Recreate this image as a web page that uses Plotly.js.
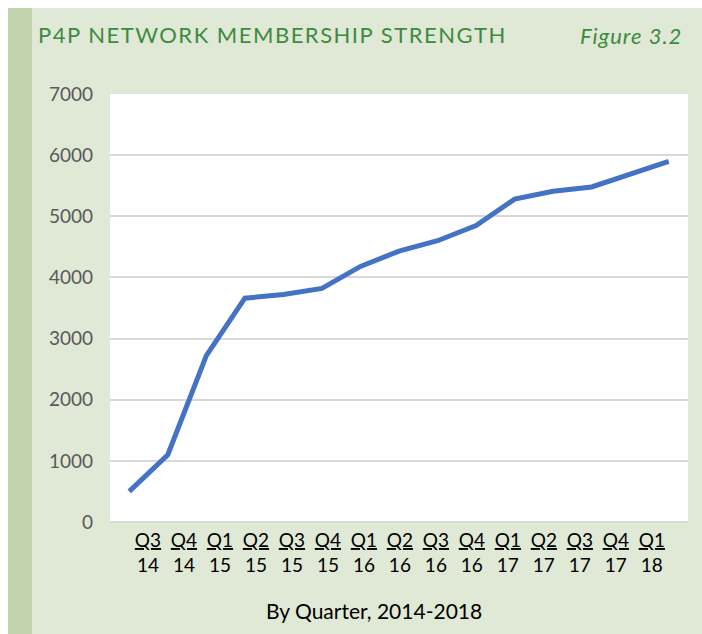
<!DOCTYPE html>
<html>
<head>
<meta charset="utf-8">
<script src="https://cdn.plot.ly/plotly-3.0.1.min.js"></script>
<style>
  html, body { margin: 0; padding: 0; background: #ffffff; }
  #bg { position: absolute; left: 8px; top: 8px; width: 694px; height: 626px;
        box-sizing: border-box; background: #e0e8d6; border-left: 24px solid #c3d3ae; }
  #plot { position: absolute; left: 0; top: 0; width: 702px; height: 634px; }
  #plot .gtitle { letter-spacing: 1.5px; }
  #plot .annotation-text.fig { letter-spacing: 1px; }
</style>
</head>
<body>
<div id="bg"></div>
<div id="plot"></div>
<script>
// ---- data ----
const quarters = ["Q3", "Q4", "Q1", "Q2", "Q3", "Q4", "Q1", "Q2", "Q3", "Q4", "Q1", "Q2", "Q3", "Q4", "Q1"];
const years    = ["14", "14", "15", "15", "15", "15", "16", "16", "16", "16", "17", "17", "17", "17", "18"];
const members  = [500, 1100, 2720, 3660, 3720, 3820, 4180, 4430, 4600, 4850, 5280, 5410, 5480, 5700, 5900];
const yTicks   = [0, 1000, 2000, 3000, 4000, 5000, 6000, 7000];
const chartTitle = "P4P NETWORK MEMBERSHIP STRENGTH";
const figureLabel = "Figure 3.2";
const xTitle = "By Quarter, 2014-2018";

// ---- layout helpers ----
const idx = members.map((_, i) => i);
const labelOffset = 0.485, labelStep = 0.934;   // label placement (as in the original, slightly shifted)
const tickPos = quarters.map((_, i) => labelOffset + labelStep * i);
const tickText = quarters.map((q, i) => "<u>" + q + "</u><br>" + years[i]);

const FONT = "Lato, 'Open Sans', sans-serif";

const trace = {
  x: idx,
  y: members,
  type: "scatter",
  mode: "lines",
  line: { color: "#4472c4", width: 5 },
  hoverinfo: "skip"
};

const layout = {
  width: 702,
  height: 634,
  margin: { l: 110, r: 14, t: 94, b: 112 },
  paper_bgcolor: "rgba(0,0,0,0)",
  plot_bgcolor: "#ffffff",
  showlegend: false,
  font: { family: FONT },
  title: {
    text: chartTitle,
    font: { family: FONT, size: 22, color: "#3d8b40" },
    xref: "container", yref: "container",
    x: 38 / 702, xanchor: "left",
    y: 1 - 35 / 634, yanchor: "middle"
  },
  xaxis: {
    type: "linear",
    range: [-0.5, quarters.length - 0.5],
    tickmode: "array",
    tickvals: tickPos,
    ticktext: tickText,
    tickfont: { family: FONT, size: 19, color: "#000000" },
    showgrid: false,
    zeroline: false,
    showline: false,
    ticks: "",
    ticklabelstandoff: 5,
    fixedrange: true
  },
  yaxis: {
    range: [0, 7000],
    tickmode: "array",
    tickvals: yTicks,
    ticktext: yTicks.map(String),
    tickfont: { family: FONT, size: 19, color: "#595959" },
    showgrid: true,
    gridcolor: "#d9d9d9",
    gridwidth: 2,
    zeroline: true,
    zerolinecolor: "#d9d9d9",
    zerolinewidth: 2,
    showline: false,
    ticks: "",
    ticklabelstandoff: 16,
    fixedrange: true
  },
  annotations: [
    {
      text: "<i>" + figureLabel + "</i>",
      xref: "paper", yref: "paper",
      x: (679 - 110) / 578, xanchor: "right",
      y: (522 - 35) / 428, yanchor: "middle",
      showarrow: false,
      font: { family: FONT, size: 22, color: "#3d8b40" }
    },
    {
      text: xTitle,
      xref: "paper", yref: "paper",
      x: (374 - 110) / 578, xanchor: "center",
      y: (522 - 610) / 428, yanchor: "middle",
      showarrow: false,
      font: { family: FONT, size: 21, color: "#000000" }
    }
  ]
};

Plotly.newPlot("plot", [trace], layout, { displayModeBar: false, staticPlot: true }).then(() => {
  const ann = document.querySelectorAll("#plot .annotation-text");
  if (ann.length) ann[0].classList.add("fig");
});
</script>
</body>
</html>
